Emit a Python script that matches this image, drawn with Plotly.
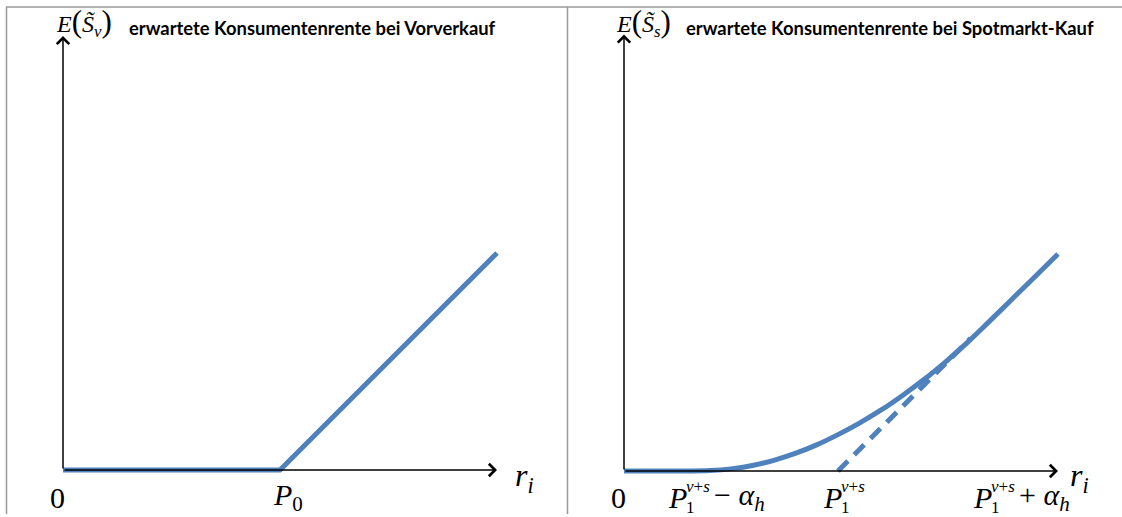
import plotly.graph_objects as go

W, H = 1122, 517

# ---------------- data ----------------
# left panel: expected consumer surplus with advance purchase
left_r = [0, 5, 10]
left_v = [0, 0, 5]
# right panel: expected consumer surplus with spot-market purchase
right_r = [0, 1.0, 1.5, 2.0, 2.5, 3.0, 3.5, 4.0, 4.5, 5.0, 5.5, 6.0, 6.5, 7.0, 7.5, 8.0, 8.5, 9.0, 9.5, 10.14]
right_v = [0, 0.0, 0.0, 0.01, 0.05, 0.13, 0.25, 0.41, 0.61, 0.85, 1.12, 1.42, 1.76, 2.13, 2.54, 2.98, 3.46, 3.95, 4.44, 5.07]
# dashed tangent r - P1
tangent_r = [5.0, 8.1]
tangent_v = [0.0, 3.1]

left_xend, left_yend = 10.0, 10.0
right_xend, right_yend = 10.14, 10.2

BLUE = "#4F81BD"
SERIF = "Liberation Serif"
SANS = "Lato"

# ---------------- layout helpers (pixel geometry) ----------------
def fx(p):
    return p / W

def fy(p):
    return 1 - p / H

# left panel: origin at (63, 470) px, scale sL px/unit
oxL, oyL, sL = 63, 470, 43.4
# right panel: origin at (624, 471) px, scale sR px/unit
oxR, oyR, sR = 624, 471, 42.8

domL = (30, 545)   # x pixel domain
domR = (590, 1100)
domY = (15, 505)   # y pixel domain (top, bottom)

fig = go.Figure()

fig.add_trace(go.Scatter(x=left_r, y=left_v, mode="lines",
                         line=dict(color=BLUE, width=5), xaxis="x", yaxis="y",
                         showlegend=False, hoverinfo="skip"))
fig.add_trace(go.Scatter(x=tangent_r, y=tangent_v, mode="lines",
                         line=dict(color=BLUE, width=5, dash="14px,9px"), xaxis="x2", yaxis="y2",
                         showlegend=False, hoverinfo="skip"))
fig.add_trace(go.Scatter(x=right_r, y=right_v, mode="lines", line_shape="spline",
                         line=dict(color=BLUE, width=5, smoothing=1.0), xaxis="x2", yaxis="y2",
                         showlegend=False, hoverinfo="skip"))

def ax_cfg(dom_px, o, s, anchor):
    return dict(domain=[fx(dom_px[0]), fx(dom_px[1])],
                range=[(dom_px[0] - o) / s, (dom_px[1] - o) / s],
                visible=False, fixedrange=True, anchor=anchor)

def ay_cfg(o, s, anchor):
    return dict(domain=[fy(domY[1]), fy(domY[0])],
                range=[(o - domY[1]) / s, (o - domY[0]) / s],
                visible=False, fixedrange=True, anchor=anchor)

fig.update_layout(
    width=W, height=H, autosize=False,
    margin=dict(l=0, r=0, t=0, b=0),
    paper_bgcolor="white", plot_bgcolor="rgba(0,0,0,0)",
    xaxis=ax_cfg(domL, oxL, sL, "y"),
    yaxis=ay_cfg(oyL, sL, "x"),
    xaxis2=ax_cfg(domR, oxR, sR, "y2"),
    yaxis2=ay_cfg(oyR, sR, "x2"),
)

# axes with arrows
anns = []
for xr, yr, xe, ye in [("x", "y", left_xend, left_yend), ("x2", "y2", right_xend, right_yend)]:
    anns.append(dict(x=xe, y=0, ax=0, ay=0, xref=xr, yref=yr, axref=xr, ayref=yr,
                     showarrow=True, arrowhead=4, arrowsize=1.6, arrowwidth=1.5,
                     arrowcolor="black", text=""))
    anns.append(dict(x=0, y=ye, ax=0, ay=0, xref=xr, yref=yr, axref=xr, ayref=yr,
                     showarrow=True, arrowhead=4, arrowsize=1.6, arrowwidth=1.5,
                     arrowcolor="black", text=""))

def label(xp, yp, text, size=30, font=SERIF, xanchor="center", color="black"):
    anns.append(dict(x=fx(xp), y=fy(yp), xref="paper", yref="paper", text=text,
                     showarrow=False, xanchor=xanchor, yanchor="middle",
                     font=dict(family=font, size=size, color=color)))

def p1_group(x_left, suffix=""):
    label(x_left, 497, "<i>P</i>", xanchor="left")
    label(x_left + 18, 486, "<i>v</i>+<i>s</i>", size=17, xanchor="left")
    label(x_left + 18, 508, "1", size=17, xanchor="left")
    if suffix:
        label(x_left + 46, 497, suffix, xanchor="left")

big = "<span style='font-size:31px'>%s</span>"

label(57, 497, "0")
label(288, 497, "<i>P</i><sub>0</sub>")
label(524, 477, "<i>r</i><sub><i>i</i></sub>", size=32)
label(618, 497, "0")
p1_group(666, "− <i>α</i><sub><i>h</i></sub>")
p1_group(821)
p1_group(971, "+ <i>α</i><sub><i>h</i></sub>")
label(1079, 477, "<i>r</i><sub><i>i</i></sub>", size=32)

label(54, 23, "<i>E</i>" + big % "(" + "<i>S̃</i><sub><i>v</i></sub>" + big % ")", size=24, xanchor="left")
label(614, 23, "<i>E</i>" + big % "(" + "<i>S̃</i><sub><i>s</i></sub>" + big % ")", size=24, xanchor="left")
label(127, 28, "<b>erwartete Konsumentenrente bei Vorverkauf</b>", size=18.4, font=SANS, xanchor="left")
label(684, 28, "<b>erwartete Konsumentenrente bei Spotmarkt-Kauf</b>", size=18.4, font=SANS, xanchor="left")

fig.update_layout(annotations=anns)

# frame lines
GRAY = "#9a9a9a"
fig.add_shape(type="line", xref="paper", yref="paper", x0=fx(6), x1=1, y0=fy(7), y1=fy(7),
              line=dict(color=GRAY, width=1.5))
fig.add_shape(type="line", xref="paper", yref="paper", x0=fx(6.5), x1=fx(6.5), y0=fy(7), y1=fy(514),
              line=dict(color=GRAY, width=1.5))
fig.add_shape(type="line", xref="paper", yref="paper", x0=fx(567.5), x1=fx(567.5), y0=fy(7), y1=fy(514),
              line=dict(color=GRAY, width=1.5))

fig.write_html("out.html", config={"displayModeBar": False},
               post_script="document.body.style.margin='0';document.body.style.overflow='hidden';")
